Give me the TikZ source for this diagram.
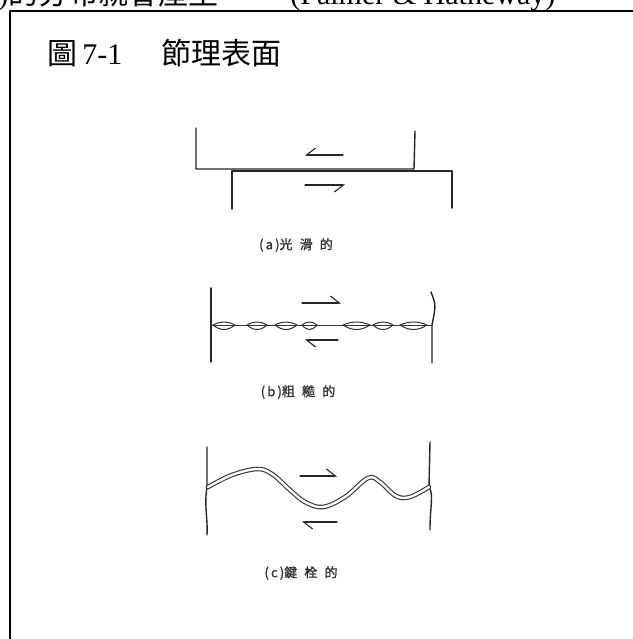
\documentclass[tikz,border=0pt]{standalone}
\usepackage{fontspec}
\setmainfont{Liberation Serif}
\newfontfamily\cjk{Noto Sans CJK TC}
\newfontfamily\capfont[FakeBold=1.5]{Noto Sans CJK TC}
\newfontfamily\capwide[LetterSpace=55,FakeBold=1.5]{Noto Sans CJK TC}
\usetikzlibrary{arrows.meta}

\begin{document}
\begin{tikzpicture}[x=1pt,y=-1pt,line join=round,line cap=round,thick]
	\tikzset{rock/.style={draw=black!85,line width=1.4pt},
		lens/.style={draw=black!80,line width=1pt},
		rope/.style={draw=black!80,line width=1.1pt,double=white,double distance=2.4pt},
		barbL/.style={draw=black!85,line width=1.1pt,-{Straight Barb[left,length=9pt,width=14pt]}},
		barbR/.style={draw=black!85,line width=1.1pt,-{Straight Barb[right,length=9pt,width=14pt]}},
		caption/.style={font=\capfont\fontsize{13}{13}\selectfont,text=black!80,inner sep=0pt},
		big/.style={font=\fontsize{30}{30}\selectfont,inner sep=0pt,anchor=base west}}
	\useasboundingbox (0,0) rectangle (632,639);
	\node[big] (prev) at (-2,4.5) {){\cjk 的分布就會產生}};
	\node[big] (cite) at (290,4.5) {(Palmer \& Hatheway)};
	\draw[line width=2pt] (10,650) -- (10,11) -- (650,11);
	\node[big] (title) at (47,65) {{\cjk 圖}\hspace{5pt}7-1\hspace{39pt}{\cjk 節理表面}};
	% smooth
	\draw[rock] (196,128) -- (196,169) -- (414,169) -- (415,131);
	\draw[rock] (232,209) -- (232,171) -- (452,171) -- (452,208);
	\draw[barbR] (343,155) -- (305,155);
	\draw[barbR] (305,185) -- (345,185);
	\node[caption] (capA) at (296,245) {(\,a\,){\capwide 光滑的}};
	% rough
	\draw[rock] (211,288) -- (211,362);
	\draw[rock] (431,292) .. controls (436,305) .. (432,325) -- (432,363);
	\draw[lens] (211,325) -- (432,325);
	\foreach \a/\b in {213/235,247/267,275/297,302/317,343/370,373/393,400/427}
		\draw[lens] (\a,325) .. controls ({\a+(\b-\a)/3},321) and ({\b-(\b-\a)/3},321) .. (\b,325)
			.. controls ({\b-(\b-\a)/3},331) and ({\a+(\b-\a)/3},331) .. cycle;
	\draw[barbL] (302,303) -- (341,303);
	\draw[barbL] (338,340) -- (305,340);
	\node[caption] (capB) at (298,392) {(\,b\,){\capwide 粗糙的}};
	% interlocking
	\draw[rock] (207,447) -- (207,487) .. controls (204,505) and (208,520) .. (207,535);
	\draw[rock] (430,442) -- (429,487) .. controls (434,495) and (430,505) .. (430,530);
	\draw[rope] plot[smooth,tension=0.6] coordinates {(208,487) (232,475) (257,469) (272,474) (290,490) (305,502) (323,507) (345,497) (368,478) (380,482) (396,496) (410,497) (429,487)};
	\draw[barbL] (300,476) -- (337,476);
	\draw[barbL] (337,522) -- (302,522);
	\node[caption] (capC) at (301,573) {(\,c\,){\capwide 鍵栓的}};
\end{tikzpicture}
\end{document}
